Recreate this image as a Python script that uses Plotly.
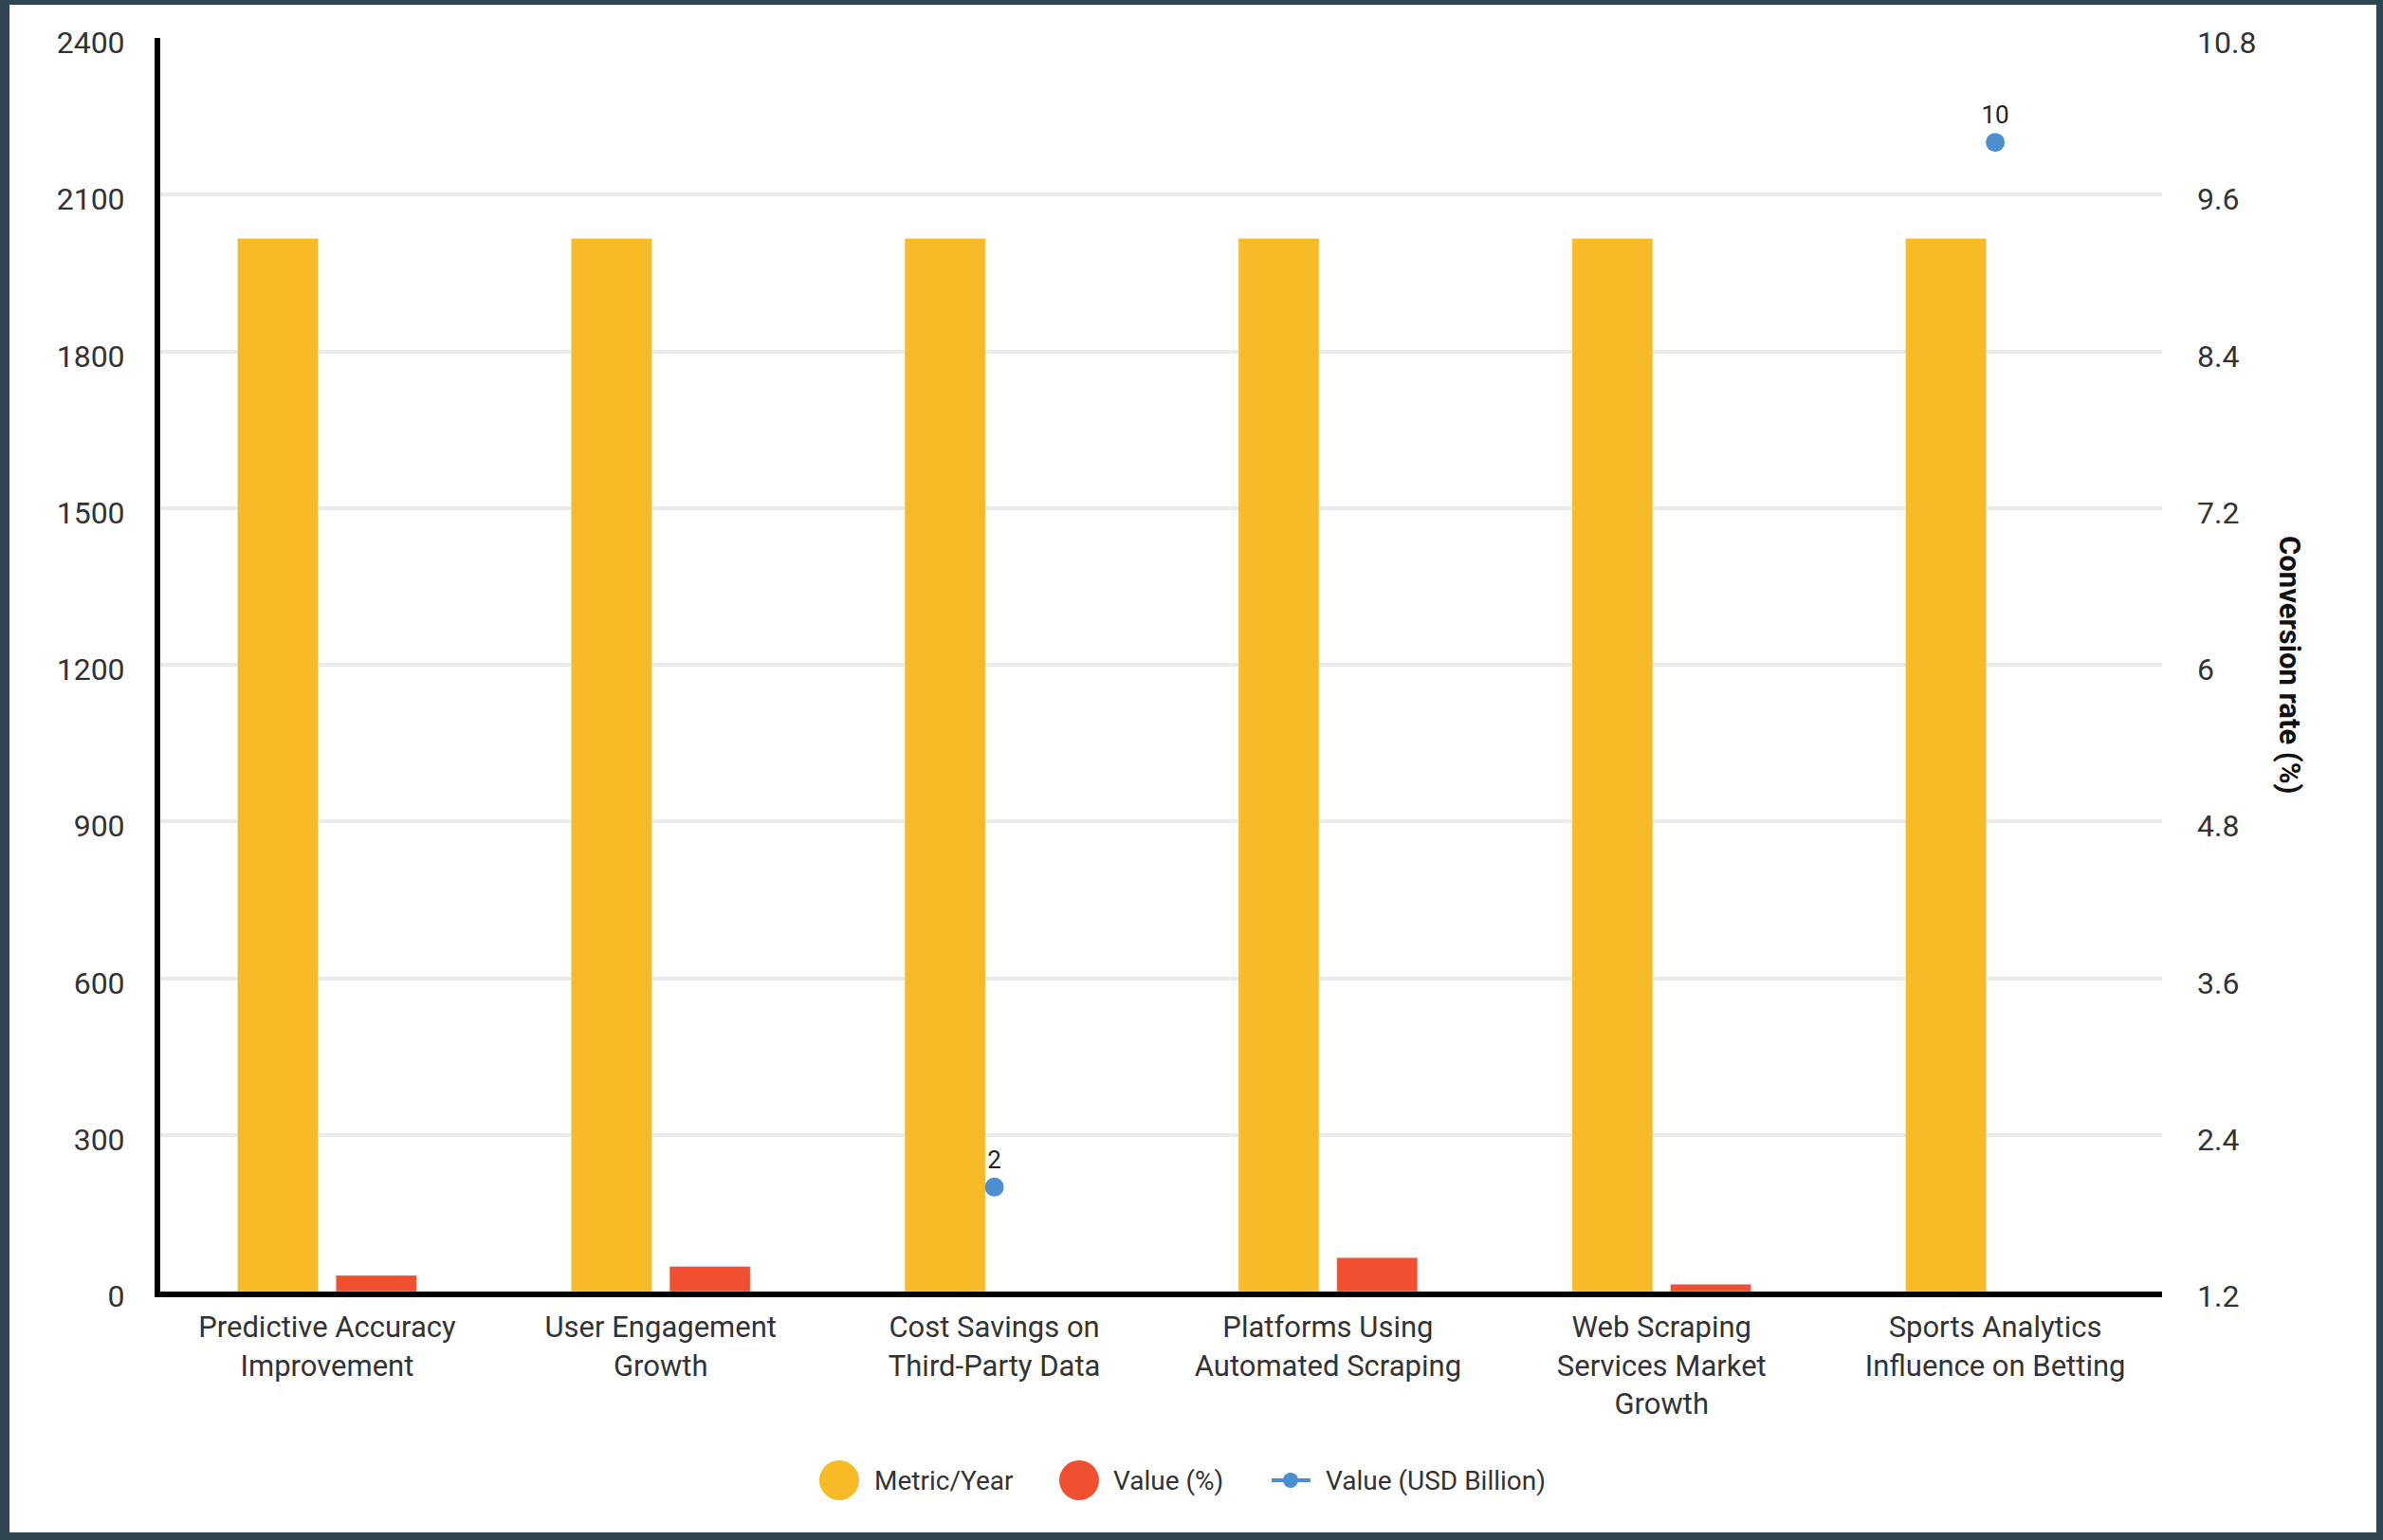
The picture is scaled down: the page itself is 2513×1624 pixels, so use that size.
import plotly.graph_objects as go

categories = [
    "Predictive Accuracy<br>Improvement",
    "User Engagement<br>Growth",
    "Cost Savings on<br>Third-Party Data",
    "Platforms Using<br>Automated Scraping",
    "Web Scraping<br>Services Market<br>Growth",
    "Sports Analytics<br>Influence on Betting",
]
metric_year = [2016, 2016, 2016, 2016, 2016, 2016]
value_pct = [31, 48, None, 65, 14, None]
value_usd_bn = [None, None, 2, None, None, 10]
usd_labels = ["", "", "2", "", "", "10"]

series_names = ["Metric/Year", "Value (%)", "Value (USD Billion)"]
left_ticks = [0, 300, 600, 900, 1200, 1500, 1800, 2100, 2400]
right_ticks = [1.2, 2.4, 3.6, 4.8, 6, 7.2, 8.4, 9.6, 10.8]

YELLOW = "#F6BB26"
RED = "#F04F30"
BLUE = "#4A90D0"
FRAME = "#2F4650"
FONT = "Roboto"

W, H = 2513, 1624
ML, MR, MT, MB = 169, 233, 40, 262
PW, PH = W - ML - MR, H - MT - MB


def px_x(p):
    return (p - ML) / PW


def px_y(p):
    return (H - MB - p) / PH


fig = go.Figure()
fig.add_trace(go.Bar(name=series_names[0], x=categories, y=metric_year,
                     marker=dict(color=YELLOW), showlegend=False))
fig.add_trace(go.Bar(name=series_names[1], x=categories, y=value_pct,
                     marker=dict(color=RED), showlegend=False))
fig.add_trace(go.Scatter(name=series_names[2], x=categories, y=value_usd_bn,
                         yaxis="y2", mode="lines+markers+text", text=usd_labels,
                         textposition="top center",
                         textfont=dict(family=FONT, size=26, color="#222"),
                         line=dict(color=BLUE, width=4),
                         marker=dict(color=BLUE, size=20), connectgaps=False,
                         showlegend=False))

shapes = []
# outer dark frame
for (x0, y0, x1, y1) in [(0, 0, 10, H), (0, 0, W, 5), (W - 7, 0, W, H), (0, H - 8, W, H)]:
    shapes.append(dict(type="rect", xref="paper", yref="paper",
                       x0=px_x(x0), x1=px_x(x1), y0=px_y(y1), y1=px_y(y0),
                       fillcolor=FRAME, line=dict(width=0), layer="above"))

# legend (drawn as shapes + text so the round symbols can be large)
LEG_Y = 1561
annotations = []
for cx, color, tx, name in [(885, YELLOW, 920, series_names[0]),
                            (1138, RED, 1172, series_names[1])]:
    r = 21
    shapes.append(dict(type="circle", xref="paper", yref="paper",
                       x0=px_x(cx - r), x1=px_x(cx + r),
                       y0=px_y(LEG_Y + r), y1=px_y(LEG_Y - r),
                       fillcolor=color, line=dict(width=0)))
    annotations.append(dict(text=name, xref="paper", yref="paper",
                            x=px_x(tx), y=px_y(LEG_Y), xanchor="left",
                            yanchor="middle", showarrow=False,
                            font=dict(size=28, color="#333")))
shapes.append(dict(type="line", xref="paper", yref="paper",
                   x0=px_x(1341), x1=px_x(1382), y0=px_y(LEG_Y), y1=px_y(LEG_Y),
                   line=dict(color=BLUE, width=4)))
shapes.append(dict(type="circle", xref="paper", yref="paper",
                   x0=px_x(1353), x1=px_x(1369), y0=px_y(LEG_Y + 8), y1=px_y(LEG_Y - 8),
                   fillcolor=BLUE, line=dict(width=0)))
annotations.append(dict(text=series_names[2], xref="paper", yref="paper",
                        x=px_x(1396), y=px_y(LEG_Y), xanchor="left",
                        yanchor="middle", showarrow=False,
                        font=dict(size=28, color="#333")))

annotations.append(dict(text="<b>Conversion rate (%)</b>", xref="paper", yref="paper",
                        x=px_x(2415), y=0.5, xanchor="center", yanchor="middle",
                        showarrow=False, textangle=90,
                        font=dict(size=31, color="#111")))

fig.update_layout(
    width=W, height=H, autosize=False,
    margin=dict(l=ML, r=MR, t=MT, b=MB, pad=0),
    paper_bgcolor="white", plot_bgcolor="white",
    font=dict(family=FONT, size=30, color="#333"),
    barmode="group", bargap=0.41, bargroupgap=0.18,
    showlegend=False,
    xaxis=dict(showline=True, linecolor="black", linewidth=6, ticks="",
               showgrid=False, tickfont=dict(size=31, color="#333"),
               ticklabelstandoff=5),
    yaxis=dict(range=[0, 2400], tickvals=left_ticks, showline=True,
               linecolor="black", linewidth=6, ticks="",
               gridcolor="#EBEBEB", gridwidth=4, zeroline=False,
               tickfont=dict(size=32, color="#333"), ticklabelstandoff=25,
               ticklabelshift=5),
    yaxis2=dict(range=[1.2, 10.8], tickvals=right_ticks, overlaying="y",
                side="right", showgrid=False, showline=False, zeroline=False,
                ticks="", tickfont=dict(size=32, color="#333"),
                ticklabelstandoff=36, ticklabelshift=5),
    annotations=annotations,
    shapes=shapes,
)

fig.write_html("out.html", config={"displayModeBar": False},
               post_script="document.body.style.margin='0';document.body.style.overflow='hidden';")
